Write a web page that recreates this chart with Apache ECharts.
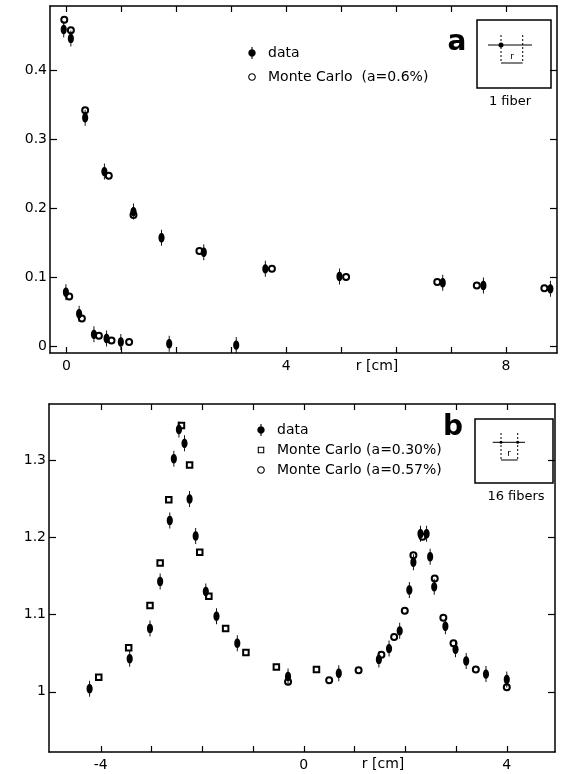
<!DOCTYPE html>
<html>
<head>
<meta charset="utf-8">
<title>Shower profiles - 1 fiber / 16 fibers</title>
<script src="https://cdn.jsdelivr.net/npm/echarts@6.0.0/dist/echarts.min.js"></script>
<style>
    html, body { margin: 0; padding: 0; background: #fff; }
    #profiles { width: 563px; height: 774px; }
</style>
</head>
<body>
<div id="profiles"></div>
<script>

// Data
// ------------------------------

// Panel a: 1 fiber, r [cm] and measured fraction (both curves)
var fiberDataR = [-0.05, 0.08, 0.34, 0.69, 1.22, 1.73, 2.50, 3.62, 4.97, 6.85, 7.59, 8.81,
                  -0.01, 0.23, 0.50, 0.73, 0.99, 1.87, 3.09];
var fiberDataV = [0.459, 0.446, 0.331, 0.253, 0.195, 0.157, 0.136, 0.112, 0.101, 0.092, 0.088, 0.083,
                  0.078, 0.047, 0.017, 0.011, 0.006, 0.0035, 0.0015];

// Panel a: Monte Carlo (a=0.6%)
var fiberMcR = [-0.04, 0.08, 0.34, 0.77, 1.22, 2.42, 3.74, 5.09, 6.75, 7.47, 8.70,
                0.05, 0.28, 0.59, 0.82, 1.14];
var fiberMcV = [0.473, 0.458, 0.342, 0.247, 0.190, 0.138, 0.112, 0.100, 0.093, 0.088, 0.084,
                0.072, 0.040, 0.015, 0.008, 0.006];

// Panel b: 16 fibers, measured response
var bundleDataR = [-4.22, -3.43, -3.03, -2.83, -2.64, -2.56, -2.46, -2.35, -2.25, -2.13, -1.93, -1.72, -1.31,
                   -0.31, 0.69, 1.48, 1.68, 1.89, 2.08, 2.16, 2.30, 2.42, 2.49, 2.57, 2.79, 2.99, 3.20, 3.59, 4.00];
var bundleDataV = [1.004, 1.043, 1.082, 1.143, 1.222, 1.302, 1.340, 1.322, 1.250, 1.202, 1.130, 1.098, 1.063,
                   1.020, 1.024, 1.042, 1.056, 1.079, 1.132, 1.168, 1.205, 1.205, 1.175, 1.136, 1.085, 1.055, 1.040, 1.023, 1.016];

// Panel b: Monte Carlo (a=0.30%)
var bundleMc30R = [-4.04, -3.45, -3.03, -2.83, -2.66, -2.41, -2.25, -2.05, -1.87, -1.54, -1.14, -0.54, 0.25];
var bundleMc30V = [1.019, 1.057, 1.112, 1.167, 1.249, 1.345, 1.294, 1.181, 1.124, 1.082, 1.051, 1.032, 1.029];

// Panel b: Monte Carlo (a=0.57%)
var bundleMc57R = [-0.31, 0.50, 1.08, 1.53, 1.78, 1.99, 2.16, 2.34, 2.58, 2.75, 2.95, 3.39, 4.00];
var bundleMc57V = [1.013, 1.015, 1.028, 1.048, 1.071, 1.105, 1.177, 1.201, 1.147, 1.096, 1.063, 1.029, 1.006];

// Ticks and labels
var fiberTicksX = [0, 1, 2, 3, 4, 5, 6, 7, 8];
var fiberLabelsX = [0, 4, 8];
var fiberTicksY = [0, 0.1, 0.2, 0.3, 0.4];
var bundleTicksX = [-4, -3, -2, -1, 0, 1, 2, 3, 4];
var bundleLabelsX = [-4, 0, 4];
var bundleTicksY = [1, 1.1, 1.2, 1.3];

var legendA = ['data', 'Monte Carlo  (a=0.6%)'];
var legendB = ['data', 'Monte Carlo (a=0.30%)', 'Monte Carlo (a=0.57%)'];


// Setup module
// ------------------------------

var EchartsFiberProfiles = function() {

    var FONT = '"DejaVu Sans", sans-serif';

    // Filled dot with a small vertical error bar
    var DATA_SYMBOL = 'path://M3.4,0 L4.6,0 L4.6,13 L3.4,13 Z ' +
        'M0,6.5 C0,4.291 1.791,2.5 4,2.5 C6.209,2.5 8,4.291 8,6.5 C8,8.709 6.209,10.5 4,10.5 C1.791,10.5 0,8.709 0,6.5 Z';

    // Legend icons (11x11 box so open marks keep their small size)
    var RING_ICON = 'path://M0,0 M11,11 ' +
        'M2,5.5 C2,3.567 3.567,2 5.5,2 C7.433,2 9,3.567 9,5.5 C9,7.433 7.433,9 5.5,9 C3.567,9 2,7.433 2,5.5 Z ' +
        'M3,5.5 C3,6.881 4.119,8 5.5,8 C6.881,8 8,6.881 8,5.5 C8,4.119 6.881,3 5.5,3 C4.119,3 3,4.119 3,5.5 Z';
    var SQUARE_ICON = 'path://M0,0 M11,11 ' +
        'M2.5,2.5 L8.5,2.5 L8.5,8.5 L2.5,8.5 Z M3.5,3.5 L3.5,7.5 L7.5,7.5 L7.5,3.5 Z';

    var zip = function(xs, ys) {
        return xs.map(function(x, i) { return [x, ys[i]]; });
    };

    var fmt = function(v, one) {
        return v === one ? String(one) : v.toFixed(1);
    };

    // Axis builders
    var xAxisFor = function(grid, pos, min, max, ticks, labels) {
        return {
            type: 'value',
            gridIndex: grid,
            position: pos,
            min: min,
            max: max,
            axisLine: { show: true, onZero: false, lineStyle: { color: '#000', width: 1.5 } },
            axisTick: { show: true, inside: true, length: 6, customValues: ticks, lineStyle: { color: '#000', width: 1.2 } },
            axisLabel: labels ? {
                customValues: labels,
                margin: 6,
                color: '#000',
                fontSize: 14,
                fontFamily: FONT,
                formatter: function(v) { return String(v); }
            } : { show: false },
            splitLine: { show: false }
        };
    };

    var yAxisFor = function(grid, pos, min, max, ticks, labels, one) {
        return {
            type: 'value',
            gridIndex: grid,
            position: pos,
            min: min,
            max: max,
            axisLine: { show: true, onZero: false, lineStyle: { color: '#000', width: 1.5 } },
            axisTick: { show: true, inside: true, length: 7, customValues: ticks, lineStyle: { color: '#000', width: 1.2 } },
            axisLabel: labels ? {
                customValues: labels,
                margin: 3,
                color: '#000',
                fontSize: 14,
                fontFamily: FONT,
                formatter: function(v) { return fmt(v, one); }
            } : { show: false },
            splitLine: { show: false }
        };
    };

    var scatter = function(name, axis, data, symbol, size) {
        var filled = symbol === DATA_SYMBOL;
        return {
            name: name,
            type: 'scatter',
            xAxisIndex: axis,
            yAxisIndex: axis,
            symbol: symbol,
            symbolSize: size,
            symbolKeepAspect: true,
            z: filled ? 3 : 2,
            itemStyle: filled
                ? { color: '#000', borderWidth: 0, opacity: 1 }
                : { color: '#000', borderColor: '#000', borderWidth: 1, opacity: 1 },
            emphasis: { disabled: true },
            data: data
        };
    };

    var text = function(x, y, str, size, bold) {
        return {
            type: 'text', x: x, y: y,
            style: {
                text: str, fill: '#000', font: (bold ? 'bold ' : '') + size + 'px ' + FONT,
                align: 'center', verticalAlign: 'middle'
            }
        };
    };

    var line = function(x1, y1, x2, y2, dashed) {
        return {
            type: 'line',
            shape: { x1: x1, y1: y1, x2: x2, y2: y2 },
            style: { stroke: '#000', lineWidth: 1, lineDash: dashed ? [2, 2] : null }
        };
    };

    var box = function(x, y, w, h) {
        return { type: 'rect', shape: { x: x, y: y, width: w, height: h }, style: { fill: 'none', stroke: '#000', lineWidth: 1.5 } };
    };

    var dot = function(x, y, r) {
        return { type: 'circle', shape: { cx: x, cy: y, r: r }, style: { fill: '#000' } };
    };

    var legendFor = function(names, icons, left, top, gap) {
        return {
            data: names.map(function(n, i) { return { name: n, icon: icons[i] }; }),
            orient: 'vertical',
            left: left,
            top: top,
            itemWidth: 22,
            itemHeight: 12,
            itemGap: gap,
            selectedMode: false,
            itemStyle: { borderWidth: 0, color: '#000', opacity: 1 },
            textStyle: { fontSize: 14, fontFamily: FONT, color: '#000' }
        };
    };

    var _profilesExample = function() {
        if (typeof echarts == 'undefined') {
            console.warn('Warning - echarts.min.js is not loaded.');
            return;
        }

        var element = document.getElementById('profiles');
        if (!element) return;

        var chart = echarts.init(element, null, { renderer: 'canvas' });

        chart.setOption({
            animation: false,
            backgroundColor: '#fff',
            textStyle: { fontFamily: FONT, color: '#000' },

            grid: [
                { left: 50, top: 6, width: 507, height: 347 },
                { left: 49, top: 404, width: 506, height: 348 }
            ],

            xAxis: [
                xAxisFor(0, 'bottom', -0.3, 8.93, fiberTicksX, fiberLabelsX),
                xAxisFor(0, 'top', -0.3, 8.93, fiberTicksX, null),
                xAxisFor(1, 'bottom', -5.02, 4.95, bundleTicksX, bundleLabelsX),
                xAxisFor(1, 'top', -5.02, 4.95, bundleTicksX, null)
            ],

            yAxis: [
                yAxisFor(0, 'left', -0.01, 0.493, fiberTicksY, fiberTicksY, 0),
                yAxisFor(0, 'right', -0.01, 0.493, fiberTicksY, null, 0),
                yAxisFor(1, 'left', 0.922, 1.373, bundleTicksY, bundleTicksY, 1),
                yAxisFor(1, 'right', 0.922, 1.373, bundleTicksY, null, 1)
            ],

            legend: [
                legendFor(legendA, [DATA_SYMBOL, RING_ICON], 241, 41, 10),
                legendFor(legendB, [DATA_SYMBOL, SQUARE_ICON, RING_ICON], 250, 418, 6)
            ],

            series: [
                scatter(legendA[1], 0, zip(fiberMcR, fiberMcV), 'emptyCircle', 6),
                scatter('data', 0, zip(fiberDataR, fiberDataV), DATA_SYMBOL, [10, 16]),
                scatter(legendB[1], 2, zip(bundleMc30R, bundleMc30V), 'emptyRect', 5.5),
                scatter(legendB[2], 2, zip(bundleMc57R, bundleMc57V), 'emptyCircle', 6),
                scatter('data', 2, zip(bundleDataR, bundleDataV), DATA_SYMBOL, [10, 16])
            ],

            // Panel letters, insets and axis names
            graphic: [
                text(377, 366, 'r [cm]', 14),
                text(383, 764, 'r [cm]', 14),

                text(457, 43, 'a', 28, true),
                box(477, 20, 74, 68),
                line(488, 45, 532, 45),
                dot(501, 45, 2.5),
                line(501, 35, 501, 63, true),
                line(522.7, 35, 522.7, 63, true),
                line(501, 63, 522.7, 63),
                text(512, 57, 'r', 9),
                text(510, 102, '1 fiber', 13),

                text(453, 428, 'b', 28, true),
                box(475, 419, 78, 64),
                line(492.7, 442.3, 525, 442.3),
                dot(501, 442.3, 1.5),
                dot(517.7, 442.3, 1.5),
                line(501, 433, 501, 460, true),
                line(517.7, 433, 517.7, 460, true),
                line(501, 460, 517.7, 460),
                text(509, 454, 'r', 9),
                text(516, 497, '16 fibers', 13)
            ]
        });

        // Resize function
        var resizeCharts;
        window.addEventListener('resize', function() {
            clearTimeout(resizeCharts);
            resizeCharts = setTimeout(function () {
                chart.resize();
            }, 200);
        });
    };

    return {
        init: function() {
            _profilesExample();
        }
    }
}();


// Initialize module
// ------------------------------

document.addEventListener('DOMContentLoaded', function() {
    EchartsFiberProfiles.init();
});
</script>
</body>
</html>
